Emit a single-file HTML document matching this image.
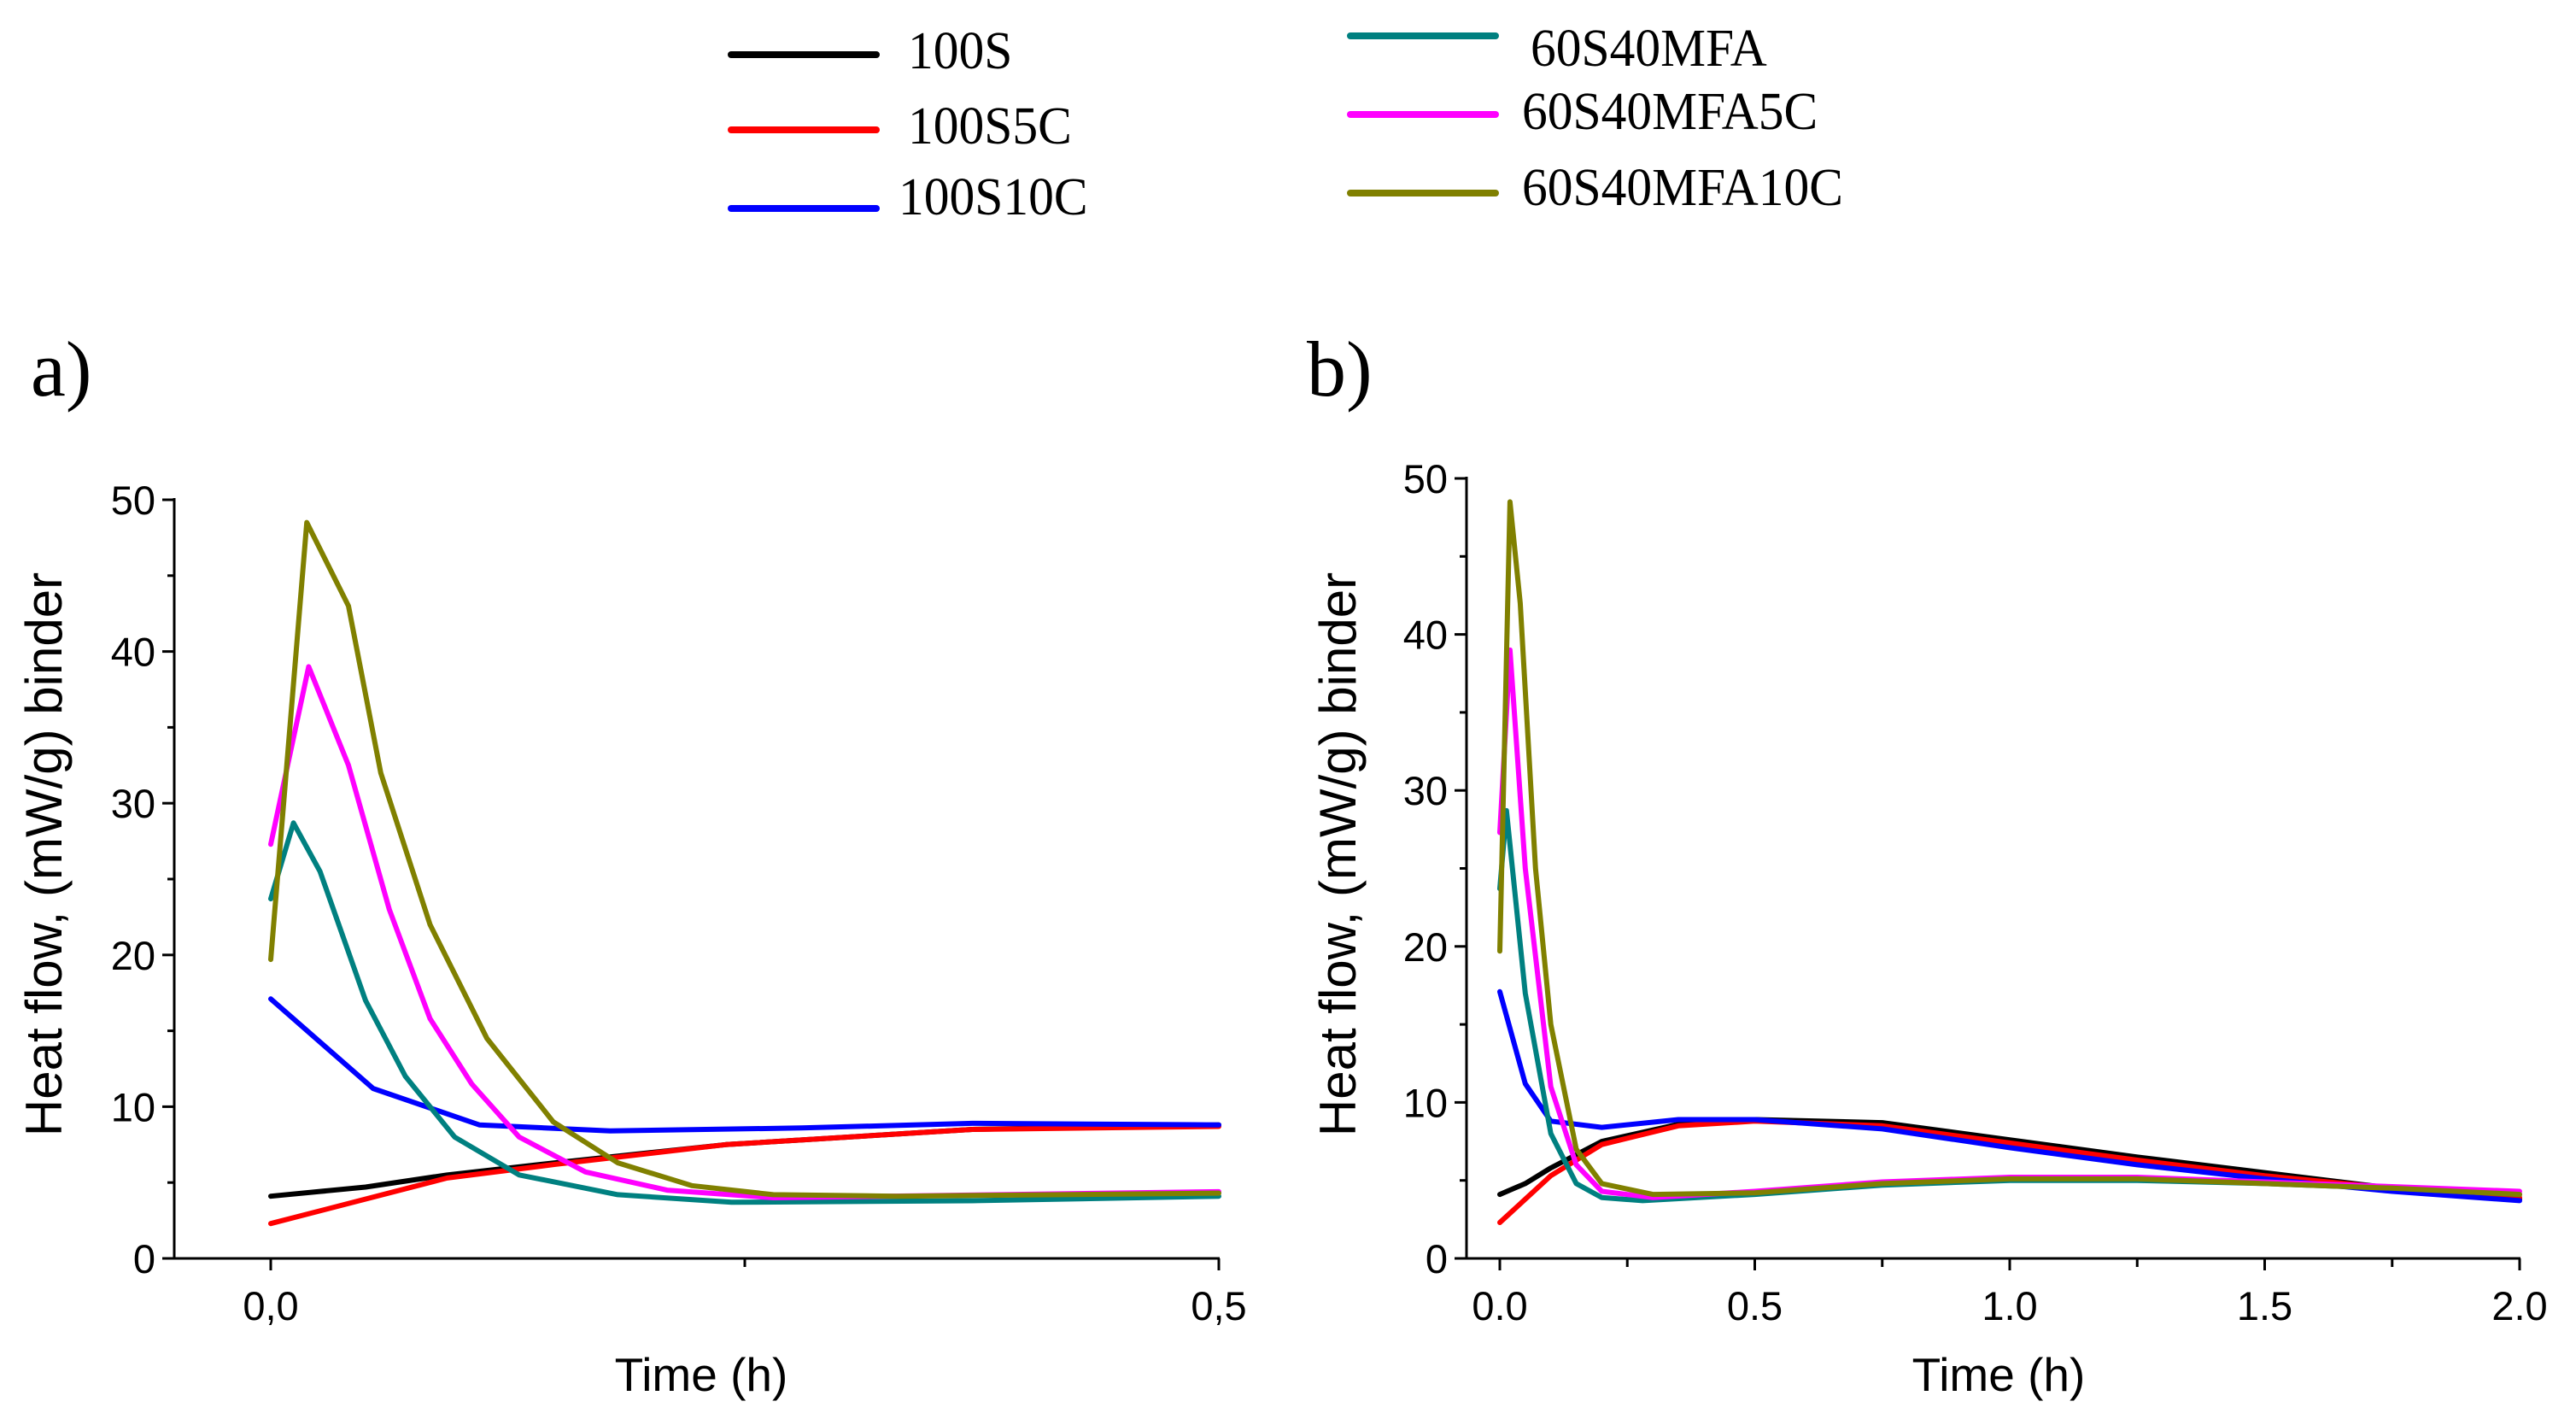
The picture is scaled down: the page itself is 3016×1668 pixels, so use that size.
<!DOCTYPE html>
<html><head><meta charset="utf-8"><style>
html,body{margin:0;padding:0;background:#fff;}
svg{display:block;}
</style></head><body>
<svg id="fig" width="3016" height="1668" viewBox="0 0 3016 1668" xmlns="http://www.w3.org/2000/svg">
<g id="legend"></g>
<g id="pa"></g>
<g id="pb"></g>
</svg>
<script>
// ---- data ----
const seriesNames = ["100S","100S5C","100S10C","60S40MFA","60S40MFA5C","60S40MFA10C"];
const seriesColors = ["#000000","#ff0000","#0000ff","#008080","#ff00ff","#808000"];
// Panel a (0 - 0.5 h)
const aBlackX = [0,0.05,0.093,0.15,0.24,0.37,0.5];
const aBlackY = [4.1,4.7,5.5,6.3,7.5,8.5,8.8];
const aRedX = [0,0.093,0.15,0.24,0.37,0.5];
const aRedY = [2.3,5.3,6.2,7.5,8.5,8.7];
const aBlueX = [0,0.054,0.11,0.179,0.28,0.37,0.5];
const aBlueY = [17.1,11.2,8.8,8.4,8.6,8.9,8.8];
const aTealX = [0,0.012,0.026,0.05,0.071,0.097,0.131,0.183,0.243,0.37,0.5];
const aTealY = [23.7,28.7,25.5,17,12,8,5.5,4.2,3.7,3.8,4.1];
const aMagX = [0,0.02,0.041,0.0625,0.084,0.106,0.131,0.166,0.209,0.265,0.5];
const aMagY = [27.3,39,32.5,23,15.8,11.5,8,5.7,4.5,4.0,4.4];
const aOliveX = [0,0.019,0.041,0.058,0.084,0.114,0.149,0.183,0.222,0.265,0.33,0.5];
const aOliveY = [19.7,48.5,43,32,22,14.5,9,6.3,4.8,4.2,4.1,4.3];
// Panel b (0 - 2 h)
const bBlackX = [0,0.05,0.1,0.2,0.35,0.5,0.75,1.0,1.25,1.5,1.75,2.0];
const bBlackY = [4.1,4.8,5.8,7.5,8.6,8.9,8.7,7.6,6.5,5.5,4.5,3.8];
const bRedX = [0,0.1,0.2,0.35,0.5,0.75,1.0,1.25,1.5,1.75,2.0];
const bRedY = [2.3,5.3,7.3,8.5,8.8,8.5,7.4,6.3,5.3,4.5,3.9];
const bBlueX = [0,0.05,0.1,0.2,0.35,0.5,0.75,1.0,1.25,1.5,1.75,2.0];
const bBlueY = [17.1,11.2,8.8,8.4,8.9,8.9,8.3,7.1,6.0,5.1,4.3,3.7];
const bTealX = [0,0.013,0.05,0.1,0.15,0.2,0.28,0.5,0.75,1.0,1.25,1.5,1.75,2.0];
const bTealY = [23.7,28.7,17,8,4.8,3.9,3.7,4.1,4.7,5.0,5.0,4.8,4.5,4.1];
const bMagX = [0,0.02,0.05,0.1,0.15,0.2,0.3,0.5,0.75,1.0,1.25,1.5,1.75,2.0];
const bMagY = [27.3,39,25,11,6,4.3,3.9,4.3,4.9,5.2,5.2,4.9,4.6,4.3];
const bOliveX = [0,0.02,0.04,0.07,0.1,0.15,0.2,0.3,0.5,0.75,1.0,1.25,1.5,1.75,2.0];
const bOliveY = [19.7,48.5,42,25,15,7,4.8,4.1,4.2,4.8,5.1,5.1,4.8,4.5,4.1];
const yTicks = [0,10,20,30,40,50];
const aXTickLabels = ["0,0","0,5"];
const aXTickVals = [0,0.5];
const bXTickVals = [0,0.5,1.0,1.5,2.0];
const bXTickLabels = ["0.0","0.5","1.0","1.5","2.0"];

const NS="http://www.w3.org/2000/svg";
function mk(parent,tag,attrs,text){const e=document.createElementNS(NS,tag);for(const k in attrs)e.setAttribute(k,attrs[k]);if(text!==undefined)e.textContent=text;parent.appendChild(e);return e;}

// legend
const lg=document.getElementById('legend');
const legPos=[[856,64],[856,152],[856,244],[1581,42],[1581,134],[1581,226]];
const txtPos=[[1063,80],[1063,168],[1052,251],[1792,77],[1782,151],[1782,240]];
seriesNames.forEach((n,i)=>{
  const l=mk(lg,'line',{x1:legPos[i][0],x2:legPos[i][0]+170,y1:legPos[i][1],y2:legPos[i][1],stroke:seriesColors[i],'stroke-width':8,'stroke-linecap':'round'});
  
  
  const t=mk(lg,'text',{x:0,y:0,'font-family':'Liberation Serif, serif','font-size':62,fill:'#000',transform:`translate(${txtPos[i][0]},${txtPos[i][1]}) scale(0.96,1)`},n);
  
  
});

function panel(g,cfg){
  const sx=v=>cfg.x0+(v-cfg.xmin)/(cfg.xmax-cfg.xmin)*(cfg.x1-cfg.x0);
  const sy=v=>cfg.yb-(v/50)*(cfg.yb-cfg.yt);
  const ax=mk(g,'path',{d:`M${cfg.axL},${sy(50)-2} V${cfg.yb} H${cfg.x1+1}`,fill:'none',stroke:'#000','stroke-width':3});
  
  
  for(let v=0;v<=50;v+=5){
    const major=v%10===0;
    const tk=mk(g,'line',{x1:cfg.axL-(major?14:8),x2:cfg.axL,y1:sy(v),y2:sy(v),stroke:'#000','stroke-width':3});
    
    
  }
  yTicks.forEach(v=>{
    const t=mk(g,'text',{x:cfg.axL-22,y:sy(v)+17,'text-anchor':'end','font-family':'Liberation Sans, sans-serif','font-size':47},String(v));
    
    
  });
  cfg.minor.forEach(v=>{
    const tk=mk(g,'line',{x1:sx(v),x2:sx(v),y1:cfg.yb,y2:cfg.yb+10,stroke:'#000','stroke-width':3});
    
    
  });
  cfg.xv.forEach((v,i)=>{
    const tk=mk(g,'line',{x1:sx(v),x2:sx(v),y1:cfg.yb,y2:cfg.yb+14,stroke:'#000','stroke-width':3});
    
    
    const t=mk(g,'text',{x:sx(v),y:cfg.yb+72,'text-anchor':'middle','font-family':'Liberation Sans, sans-serif','font-size':47},cfg.xl[i]);
    
    
  });
  const xt=mk(g,'text',{x:cfg.xtx,y:1628,'text-anchor':'middle','font-family':'Liberation Sans, sans-serif','font-size':55},'Time (h)');
  
  
  const yt=mk(g,'text',{x:0,y:0,'text-anchor':'middle','font-family':'Liberation Sans, sans-serif','font-size':60,transform:`translate(${cfg.ytx},1000) rotate(-90)`},'Heat flow, (mW/g) binder');
  
  
  const pl=mk(g,'text',{x:cfg.plx,y:463,'font-family':'Liberation Serif, serif','font-size':92},cfg.pl);
  
  
  cfg.series.forEach((s,i)=>{
    const d=s[0].map((x,j)=>(j?'L':'M')+sx(x).toFixed(1)+','+sy(s[1][j]).toFixed(1)).join(' ');
    const p=mk(g,'path',{d:d,fill:'none',stroke:seriesColors[i],'stroke-width':6,'stroke-linejoin':'round','stroke-linecap':'round'});
    
    
  });
}
panel(document.getElementById('pa'),{xmin:0,xmax:0.5,x0:317,x1:1427,axL:204,yt:585,yb:1473,xv:aXTickVals,xl:aXTickLabels,minor:[0.25],xtx:821,ytx:72,plx:36,pl:'a)',
  series:[[aBlackX,aBlackY],[aRedX,aRedY],[aBlueX,aBlueY],[aTealX,aTealY],[aMagX,aMagY],[aOliveX,aOliveY]]});
panel(document.getElementById('pb'),{xmin:0,xmax:2,x0:1756,x1:2950,axL:1717,yt:560,yb:1473,xv:bXTickVals,xl:bXTickLabels,minor:[0.25,0.75,1.25,1.75],xtx:2340,ytx:1587,plx:1530,pl:'b)',
  series:[[bBlackX,bBlackY],[bRedX,bRedY],[bBlueX,bBlueY],[bTealX,bTealY],[bMagX,bMagY],[bOliveX,bOliveY]]});
</script>
</body></html>
